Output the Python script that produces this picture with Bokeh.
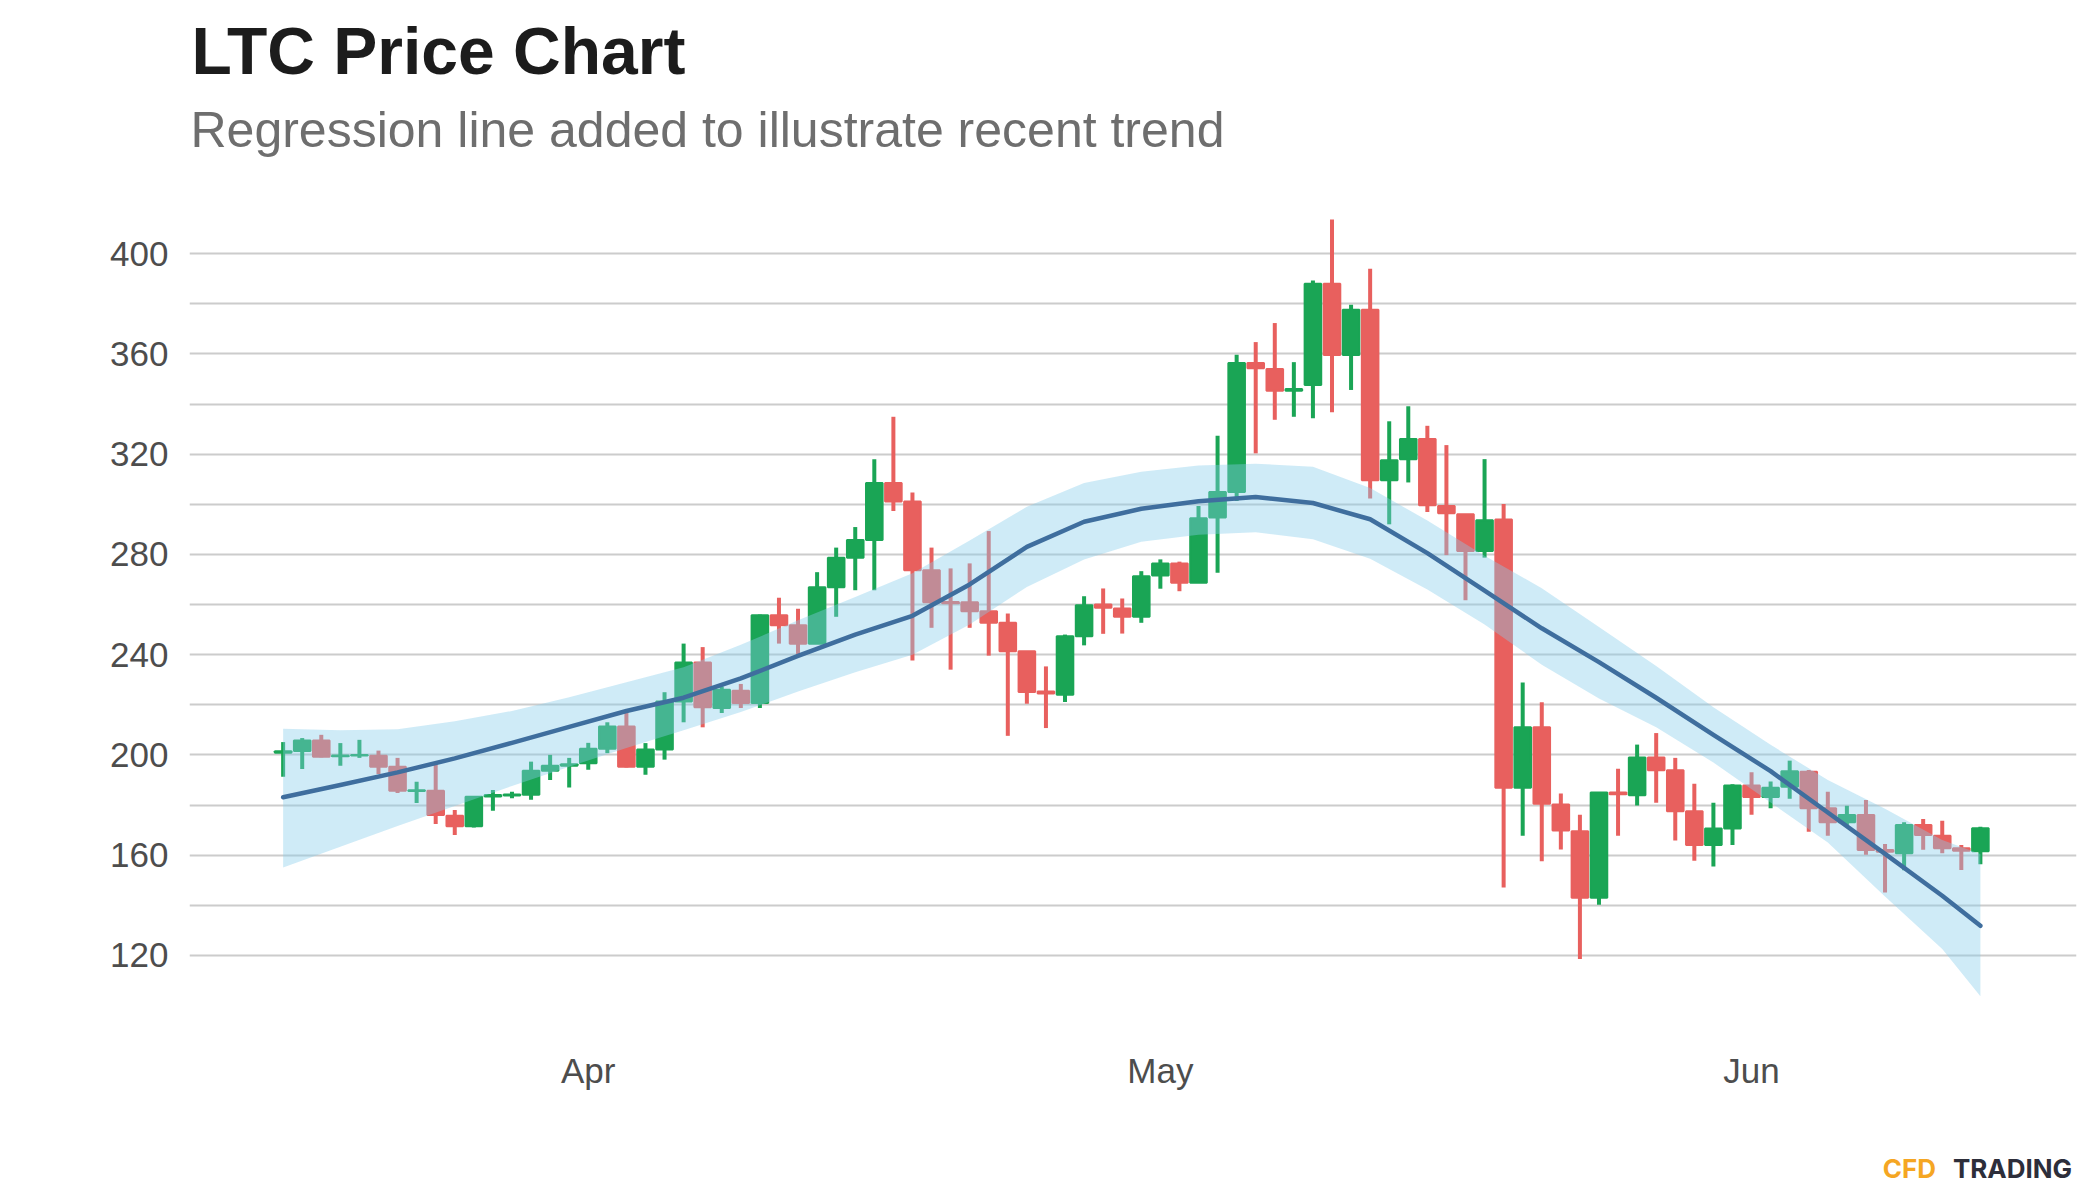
import pandas as pd
from bokeh.plotting import figure
from bokeh.models import (ColumnDataSource, Range1d, FixedTicker, DatetimeTickFormatter,
                          Title, LinearAxis)
from bokeh.embed import file_html
from bokeh.resources import INLINE

# ---------------- data ----------------
first_day = "2021-03-16"
n_days = 90
opens = [200.8, 201.5, 205.7, 199.5, 199.8, 199.7, 195.3, 185.6, 185.7, 175.7,
         171.5, 183.4, 183.8, 184.1, 193.7, 195.7, 196.7, 202.4, 211.3, 195.3,
         202.1, 221.3, 236.9, 218.7, 225.6, 220.7, 255.7, 251.7, 244.3, 266.9,
         278.7, 285.7, 308.5, 301.1, 273.7, 261.0, 260.9, 257.3, 252.7, 241.3,
         225.3, 224.0, 247.3, 260.0, 258.4, 255.1, 271.6, 276.4, 268.7, 294.7,
         304.9, 356.4, 354.0, 345.3, 347.6, 388.0, 359.6, 377.6, 309.6, 318.0,
         326.0, 299.3, 296.0, 281.3, 293.9, 186.9, 211.0, 180.2, 169.5, 143.0,
         185.0, 183.9, 199.0, 193.9, 177.5, 164.0, 170.6, 187.8, 183.2, 187.3,
         193.3, 178.7, 173.1, 176.0, 162.0, 160.7, 172.0, 167.7, 162.7, 161.5]
highs = [205.1, 206.7, 208.0, 204.7, 206.0, 201.7, 198.8, 189.3, 196.7, 178.0,
         183.5, 186.0, 185.3, 197.3, 200.0, 198.8, 204.8, 213.0, 217.7, 204.7,
         225.0, 244.4, 243.0, 227.3, 228.3, 256.0, 262.7, 258.3, 272.9, 282.7,
         290.9, 318.0, 334.9, 304.7, 282.7, 274.4, 276.4, 289.3, 256.4, 241.3,
         235.3, 248.0, 263.3, 266.4, 262.4, 273.3, 278.0, 277.1, 299.3, 327.3,
         359.7, 364.7, 372.3, 356.7, 389.3, 413.6, 379.6, 394.0, 333.1, 339.1,
         331.3, 323.6, 296.0, 318.0, 300.1, 228.9, 221.0, 184.6, 176.1, 185.0,
         194.5, 204.1, 208.7, 198.8, 188.5, 180.9, 188.3, 193.1, 189.4, 197.7,
         194.0, 185.3, 179.7, 182.0, 164.4, 173.1, 174.4, 173.7, 164.0, 171.3]
lows = [191.3, 194.4, 199.0, 195.7, 198.8, 192.4, 184.8, 180.8, 172.4, 168.0,
        171.0, 177.7, 182.7, 182.1, 190.0, 187.0, 194.1, 200.7, 195.0, 192.1,
        198.1, 213.0, 211.0, 216.7, 218.7, 218.7, 244.4, 240.0, 244.3, 255.1,
        265.7, 265.7, 297.3, 237.7, 250.7, 234.0, 250.7, 239.6, 207.6, 220.4,
        210.7, 221.1, 243.7, 248.3, 248.4, 252.7, 266.3, 265.3, 268.7, 272.7,
        301.3, 320.3, 333.7, 334.9, 334.3, 336.7, 345.6, 302.3, 292.0, 308.7,
        296.9, 279.7, 261.7, 278.7, 147.1, 167.7, 157.6, 162.2, 118.6, 140.2,
        167.7, 179.8, 180.9, 165.8, 157.8, 155.5, 164.0, 176.1, 178.7, 182.5,
        169.3, 167.7, 172.0, 160.1, 145.1, 154.0, 162.1, 160.7, 154.1, 156.4]
closes = [201.4, 205.7, 199.3, 199.8, 200.0, 195.3, 185.7, 185.9, 176.0, 171.5,
          183.3, 184.0, 184.2, 193.7, 195.7, 196.3, 202.4, 211.3, 195.3, 202.1,
          221.3, 236.9, 219.0, 226.0, 220.7, 255.7, 251.7, 244.3, 266.9, 278.7,
          285.7, 308.5, 301.1, 273.7, 260.9, 260.5, 257.3, 252.7, 241.3, 225.1,
          224.5, 247.3, 259.7, 258.7, 255.1, 271.3, 276.4, 268.7, 294.4, 304.9,
          356.4, 354.3, 345.3, 346.0, 388.0, 359.6, 377.6, 309.6, 317.6, 326.0,
          299.6, 296.4, 281.3, 293.6, 186.9, 211.0, 180.5, 169.8, 143.0, 185.0,
          184.3, 199.0, 193.9, 177.5, 164.0, 170.6, 187.8, 183.2, 186.9, 193.5,
          178.7, 173.1, 176.0, 162.0, 161.3, 172.0, 168.0, 162.7, 161.7, 170.7]

# regression (loess) line and its confidence band, sampled at day offsets
trend_idx = [0, 3, 6, 9, 12, 15, 18, 21, 24, 27, 30, 33, 36, 39, 42, 45,
             48, 51, 54, 57, 60, 63, 66, 69, 72, 75, 78, 81, 84, 87, 89]
trend_mid = [183.1, 188.0, 193.0, 198.6, 204.8, 211.2, 217.5, 222.8, 230.5, 239.5,
             248.0, 255.5, 268.0, 283.0, 293.0, 298.2, 301.2, 302.9, 300.5, 294.0,
             280.5, 265.5, 250.5, 237.0, 222.8, 208.0, 193.5, 177.0, 160.5, 143.8, 131.8]
trend_upper = [210.4, 209.8, 210.2, 213.4, 217.5, 223.0, 229.0, 235.0, 243.9, 253.7,
               263.0, 272.5, 285.5, 299.0, 308.5, 313.0, 315.5, 316.2, 315.0, 306.5,
               293.5, 279.5, 266.5, 251.0, 235.5, 219.0, 204.0, 190.0, 178.5, 166.0, 160.4]
trend_lower = [155.1, 163.3, 171.6, 179.6, 187.6, 195.3, 202.7, 209.8, 217.1, 225.3,
               233.0, 240.0, 252.0, 267.0, 278.0, 285.0, 287.8, 288.8, 286.0, 278.3,
               266.0, 252.0, 236.0, 222.5, 211.0, 197.0, 181.0, 165.0, 143.5, 122.5, 103.7]

y_ticks = [120, 160, 200, 240, 280, 320, 360, 400]
y_minor = [100, 140, 180, 220, 260, 300, 340, 380, 420]
month_ticks = ["2021-04-01", "2021-05-01", "2021-06-01"]

title_text = "LTC Price Chart"
subtitle_text = "Regression line added to illustrate recent trend"
logo_left = "CFD"
logo_right = "TRADING"

# ---------------- styling ----------------
GREEN = "#1aa555"
RED = "#e8605e"
BAND = "#87ceeb"
LINE = "#3f6e9e"
GRID = "#cccccc"
FONT = "Liberation Sans"

dates = pd.date_range(first_day, periods=n_days, freq="D")
day_ms = 86400000
colors = [GREEN if c >= o else RED for o, c in zip(opens, closes)]
src = ColumnDataSource(dict(
    date=dates, open=opens, high=highs, low=lows, close=closes,
    top=[max(o, c) for o, c in zip(opens, closes)],
    bottom=[min(o, c) for o, c in zip(opens, closes)],
    color=colors))

trend_dates = dates[trend_idx]

x_start = dates[0] - pd.Timedelta(days=4.91)
x_end = dates[0] + pd.Timedelta(days=94.04)

FRAME_L, FRAME_W = 189, 1887
p = figure(frame_width=FRAME_W, frame_height=802,
           min_border_left=FRAME_L, min_border_right=16,
           min_border_top=203, min_border_bottom=187,
           x_axis_type="datetime",
           x_range=Range1d(x_start, x_end), y_range=Range1d(100, 420),
           output_backend="svg", toolbar_location=None, title=None)
p.outline_line_color = None
p.background_fill_color = "white"
p.border_fill_color = "white"

# candles
p.segment(x0="date", x1="date", y0="low", y1="high", source=src,
          line_color="color", line_width=4)
p.vbar(x="date", width=0.87 * day_ms, top="top", bottom="bottom", source=src,
       fill_color="color", line_color="color", line_width=2)

# regression band and line
p.varea(x=trend_dates, y1=trend_lower, y2=trend_upper,
        fill_color=BAND, fill_alpha=0.4)
p.line(x=trend_dates, y=trend_mid, line_color=LINE, line_width=4.5,
       line_join="round", line_cap="round")

# axes
p.yaxis.ticker = FixedTicker(ticks=y_ticks, minor_ticks=y_minor)
p.xaxis.ticker = FixedTicker(ticks=[pd.Timestamp(t).value // 10**6 for t in month_ticks])
p.xaxis.formatter = DatetimeTickFormatter(days="%b", months="%b", years="%b",
                                          hours="%b", minutes="%b")
for ax in (p.xaxis[0], p.yaxis[0]):
    ax.axis_line_color = None
    ax.major_tick_line_color = None
    ax.minor_tick_line_color = None
    ax.major_label_text_font = FONT
    ax.major_label_text_font_size = "35px"
    ax.major_label_text_color = "#4d4d4d"
p.yaxis.major_label_standoff = 15
p.xaxis.major_label_standoff = 39

p.xgrid.grid_line_color = None
p.ygrid.grid_line_color = GRID
p.ygrid.grid_line_width = 2
p.ygrid.minor_grid_line_color = GRID
p.ygrid.minor_grid_line_width = 2

# ---- header: spacer, subtitle, title (first added sits nearest the plot) ----
p.add_layout(Title(text=" ", text_font=FONT, text_font_size="1px", standoff=43), "above")
p.add_layout(Title(text=subtitle_text, text_font=FONT, text_font_size="50px",
                   text_font_style="normal", text_color="#6e6e6e",
                   align="left", offset=1, standoff=0), "above")
p.add_layout(Title(text=title_text, text_font=FONT, text_font_size="66px",
                   text_font_style="bold", text_color="#1c1c1c",
                   align="left", offset=2, standoff=23), "above")

# ---- logo at the bottom right, as two label-only axes on a pixel range ----
p.extra_x_ranges = {"logo": Range1d(FRAME_L, FRAME_L + FRAME_W)}
logo_cfd_x, logo_trading_x = 1909, 2012

def logo_axis(tick, text, color, standoff):
    return LinearAxis(x_range_name="logo", ticker=FixedTicker(ticks=[tick]),
                      major_label_overrides={tick: text},
                      axis_line_color=None, major_tick_line_color=None,
                      minor_tick_line_color=None, major_tick_in=0, major_tick_out=0,
                      minor_tick_in=0, minor_tick_out=0,
                      major_label_standoff=standoff,
                      major_label_text_font="Inter", major_label_text_font_style="bold",
                      major_label_text_font_size="26px", major_label_text_color=color)

p.add_layout(logo_axis(logo_cfd_x, logo_left, "#f5a623", 60), "below")
p.add_layout(logo_axis(logo_trading_x, logo_right, "#2d2e3a", -34), "below")

open("out.html", "w").write(file_html(p, INLINE))
